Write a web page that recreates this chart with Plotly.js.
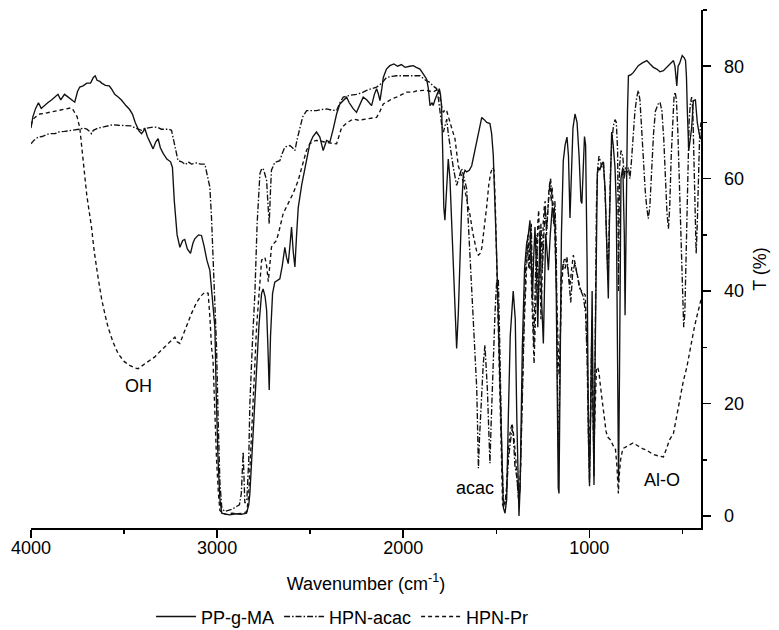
<!DOCTYPE html>
<html>
<head>
<meta charset="utf-8">
<script src="https://cdn.plot.ly/plotly-3.0.1.min.js"></script>
<style>html,body{margin:0;padding:0;background:#fff}#chart{width:779px;height:630px}</style>
</head>
<body>
<div id="chart"></div>
<script>
// PP-g-MA (solid)
const ppWn = [4000,3990,3975,3960,3945,3930,3910,3890,3870,3855,3840,3820,3800,3780,3765,3750,3738,3720,3700,3680,3665,3655,3645,3630,3620,3600,3580,3568,3550,3530,3514,3490,3470,3455,3440,3420,3406,3395,3389,3375,3360,3344,3330,3317,3305,3290,3270,3250,3240,3230,3215,3200,3185,3174,3160,3143,3130,3120,3100,3084,3070,3055,3039,3025,3012,3005,2995,2985,2975,2950,2932,2900,2870,2842,2830,2824,2810,2800,2788,2775,2761,2753,2742,2734,2727,2720,2713,2702,2690,2675,2663,2650,2636,2627,2618,2609,2600,2591,2582,2573,2564,2545,2528,2515,2502,2485,2466,2448,2430,2412,2394,2375,2358,2340,2320,2304,2290,2270,2251,2235,2215,2195,2180,2170,2155,2143,2133,2125,2115,2107,2090,2072,2050,2030,2010,1990,1965,1946,1930,1910,1890,1874,1865,1856,1845,1839,1830,1820,1806,1800,1794,1788,1782,1776,1770,1764,1758,1749,1740,1731,1722,1713,1704,1695,1686,1677,1668,1659,1645,1632,1618,1605,1590,1578,1565,1551,1534,1525,1516,1507,1498,1489,1480,1471,1462,1453,1444,1435,1425,1409,1398,1390,1383,1378,1372,1360,1348,1337,1328,1319,1312,1306,1299,1292,1284,1277,1271,1265,1256,1247,1240,1234,1227,1220,1210,1199,1192,1185,1178,1172,1167,1163,1158,1150,1140,1130,1120,1112,1104,1097,1088,1077,1066,1055,1045,1040,1033,1026,1020,1012,1005,999,992,985,980,975,970,962,957,950,944,935,925,915,905,898,892,885,880,872,862,855,848,843,838,830,820,812,808,802,795,790,776,763,750,737,715,691,674,656,638,620,602,585,566,548,540,530,523,515,501,490,483,478,474,466,458,450,441,430,420,410,400];
const ppT = [69,71,72.5,73.5,72.5,73,73.5,74,74.5,75,74,75,74.5,74,73.6,75.5,76.3,76.5,77,77,78,78.3,77.5,77.3,77,76.6,76.5,76,75,74.5,74,73,72.3,71.5,70,68.5,68,68.5,69,67.5,66.5,65.3,66.5,67.1,65.5,64.5,63.5,63,62,56,50,47.8,49,49.2,47.5,46.7,48.5,49.3,50,49.9,48,45.5,43.7,39,33.6,22,10,3,0.5,0.3,0.2,0.4,0.3,0.5,2,4,13,20,27.7,34,39.6,40.4,39,36.6,30,22.4,32,39.6,41.6,42,42.2,44.5,47.8,46,44.9,48,51.4,47,44.3,50,54.9,59,62,64.5,66.2,67.5,68.3,67.4,65,66.8,66.5,69,71.5,73.3,74,74.5,73.5,72.5,71.8,73,74.5,74,73.5,73,75,76,75,73.9,76,78,79.5,80.1,80.4,80,80.3,79.8,80,80.1,79.8,79.5,78.5,77.7,76,73,73.5,73,74,74.8,76,75,73,65,55,52.6,57,62,63.5,60,53,46.4,38,29.8,36,46.4,55,60.6,61.5,61.2,61.5,62.3,64.5,67.1,69.5,70.9,70.5,70,69.8,68,64.1,56,46.4,35,22.7,10,1.5,0.5,3,18,32,40,35,18,5,0,5,30,44,48.4,50,52.6,46,38.4,46,51.4,44,33.6,42,50.8,38,30.7,42,50.2,47,43.7,50,54.9,54,52.6,40,20,5,4,20,50,63.2,66,67.4,64,53,60,69,71.5,70,64,56,55.6,62,67.5,66,45,15,5.3,20,40,20,5.5,25,55,61,62,61.5,62.5,63,58,48,38.7,52,66,68.3,66,62,55,25,6,25,60,62,50,35.7,55,72,78.3,78.5,78.9,79.5,80.1,80.6,81,80.4,79.8,79.5,79,79.2,79.8,80.4,81,80,76.5,80,80.5,81.9,81.5,81,78,72.7,65,67,69.1,73.9,74,70,68,67];

// HPN-acac (dash-dot)
const acacWn = [4000,3985,3962,3940,3920,3900,3870,3855,3820,3790,3760,3740,3720,3700,3685,3675,3665,3640,3610,3586,3560,3530,3500,3460,3440,3420,3406,3390,3360,3340,3317,3300,3280,3260,3245,3235,3225,3210,3190,3170,3155,3138,3110,3090,3066,3055,3045,3039,3030,3022,3012,3003,2995,2985,2975,2960,2940,2920,2896,2880,2870,2860,2851,2840,2830,2824,2810,2797,2785,2770,2760,2753,2745,2734,2726,2720,2713,2708,2690,2663,2650,2636,2620,2609,2595,2582,2570,2555,2540,2519,2490,2466,2440,2412,2385,2358,2340,2322,2290,2251,2220,2197,2170,2143,2115,2090,2060,2036,2000,1964,1930,1910,1880,1856,1840,1820,1810,1802,1793,1784,1775,1766,1758,1749,1731,1713,1700,1686,1672,1659,1650,1641,1632,1623,1614,1605,1600,1596,1590,1580,1570,1561,1555,1548,1540,1534,1528,1516,1507,1498,1489,1480,1471,1462,1455,1445,1435,1425,1415,1408,1400,1390,1380,1372,1362,1350,1340,1330,1320,1312,1305,1298,1290,1282,1275,1268,1260,1252,1245,1238,1230,1222,1215,1208,1200,1192,1185,1178,1170,1165,1160,1152,1140,1130,1120,1110,1100,1090,1078,1066,1055,1045,1032,1020,1012,1005,999,993,986,980,975,970,962,955,948,940,932,924,916,908,900,893,886,878,870,862,855,848,843,838,830,820,812,806,798,790,782,774,765,755,745,737,728,718,708,700,692,683,675,665,655,645,630,620,610,600,592,583,575,568,560,552,545,539,532,524,515,508,500,493,487,480,472,464,457,450,444,438,432,426,420,413,407,400];
const acacT = [66.2,66.8,67.4,67.5,67.8,68,68,68.3,68.4,68.5,68.6,68.8,69,68.8,68.4,68,68.6,69,69.2,69.4,69.6,69.5,69.5,69.4,69,68.8,68.6,68.9,69,69.2,69.1,68.8,68.8,68.8,68.6,67,65,63.2,63,62.5,63,62.6,62.8,62.6,62.6,61,59,58.5,53,45.5,38,30,18,6,1.5,0.8,1,1.2,1.7,2,4,11.4,2.3,3,10,20,31,39.6,52,60.9,61.8,61.8,61,59.7,55,52,58,61.5,62.9,63.2,64.5,65.6,65.8,65.9,65.5,65,67,69.1,71,72.1,72.1,72.1,72.3,72.4,72.2,72.1,73.5,74.5,74.8,75,75.3,75.7,76,76.3,77,78,78.2,78.3,78.3,78.3,78.3,78.3,77.5,77.1,76.5,76,74,71.8,69.5,68.3,69.5,70.6,68,65.9,62,58.8,60.5,61.8,60,58.2,52,46.4,40,34.5,28,22.7,15,8.5,14,22,27,30.4,27,22.7,15,9.4,16,28.6,36,41.6,42.2,28.6,12,3,2,4,10,13,15.5,14,9,7,3,5,20,36,46,50,44,52,40,30,42,50,38,46,52,44,50,55,51,56,58,60,55,52,56,48,20,10,22,42,45,44,46,42,38,43,45,43,41,40,39,36,28,14,6,20,35,18,7,25,55,62,64,63,62,63,58,50,42,52,62,67,69.5,70.5,70,65,40,62,65,64,60,62,61,62,60,63,68,72,74.5,75.7,74,68,62,58,55,52.9,55,62,68,72,73.3,73.6,72,67,60,54,51.1,55,64,71,74.5,75.4,74,68,58,48,40,33.6,36,48,62,70,73.5,74.5,72,62,52,46.7,52,62,68,70];

// HPN-Pr (dashed)
const prWn = [4000,3990,3975,3953,3930,3900,3880,3855,3830,3801,3785,3775,3765,3752,3745,3738,3730,3720,3700,3675,3660,3640,3620,3600,3586,3560,3532,3500,3470,3440,3425,3400,3370,3335,3300,3260,3240,3227,3215,3200,3185,3165,3138,3110,3085,3066,3048,3038,3030,3022,3012,3003,2993,2985,2970,2950,2920,2890,2860,2840,2830,2815,2800,2788,2775,2761,2743,2734,2725,2716,2708,2695,2681,2665,2645,2627,2609,2590,2564,2550,2537,2520,2502,2485,2466,2440,2412,2385,2358,2345,2331,2300,2269,2240,2215,2197,2170,2143,2125,2107,2080,2060,2036,2000,1981,1964,1946,1930,1910,1890,1874,1856,1839,1825,1812,1800,1792,1784,1775,1766,1758,1749,1735,1722,1713,1704,1690,1677,1660,1641,1627,1614,1605,1596,1587,1578,1565,1551,1540,1530,1520,1512,1505,1498,1490,1482,1474,1466,1455,1445,1435,1425,1415,1405,1395,1385,1378,1370,1360,1350,1340,1332,1325,1318,1310,1303,1297,1290,1283,1277,1272,1266,1260,1254,1248,1242,1237,1230,1224,1217,1211,1205,1200,1193,1185,1178,1170,1163,1157,1150,1140,1131,1121,1112,1104,1095,1086,1077,1068,1059,1050,1040,1030,1022,1012,1005,999,993,986,980,975,970,962,955,948,940,930,920,910,900,885,872,860,852,846,844,840,832,820,805,790,765,740,715,691,660,630,602,585,570,548,530,512,495,476,462,450,436,423,410,400];
const prT = [69.5,70.5,71,71.5,71.6,71.8,72,72.1,72.2,72.4,72.6,72.3,71.8,71,70,69.1,66.5,63.2,57,51.4,47,42.5,38.5,35.5,33.6,31,28.9,27.5,26.8,26.3,26.2,26.8,27.5,28.3,29.5,30.8,31.5,31.8,31,30.7,32,33.8,36,38,39.2,39.8,39.6,35,30,27.7,18,10,4,1,0.5,0.3,0.5,0.4,0.5,0.8,4,15.9,25,33.6,40,45.5,46,44.5,41.7,44.5,47.8,48.5,49,51,53.8,55,56.1,57.5,59.7,61.5,63.2,65,66.2,66.6,66.8,66.6,66.5,66.3,66.2,67.5,69.1,70,70.6,70.4,70.5,70.6,70.7,70.9,72,73.3,73.8,74.2,74.5,75,75.4,75.4,75.4,75.6,75.7,75.7,75.7,75.5,75.4,75.7,76,74,72.5,71.8,72.3,72,71,70,68.5,67.1,65,62.3,60.8,59.4,56.5,53.5,50.5,48.1,47,46.4,46.7,47.6,51,55.2,59,61,62,61.5,55,45,32,20,8,2,1.5,5,12,15,16.5,14,10,4,2,8,22,34,42,48,44,50,40,32,27.1,35,45,52,54.4,45,35,42,52,55,56,50,55,58,59.7,56,58.5,54,50,42,30,25,30,40,45,46,45.2,43,41,44,46.4,45,43.4,42,40.4,40,39.5,39.3,30,18,10,18,28,18,12,18,26,26.5,25.5,23,20,17,15,14,13.5,12.5,12,9,5,4,7,10,12,12.3,12.6,13,12.5,12,11.7,11,10.7,10.5,12,13.5,14.7,18,21,24,26.5,29,31.3,33.5,35.4,37.5,38.5];

const seriesNames = ['PP-g-MA', 'HPN-acac', 'HPN-Pr'];
const xMajorTicks = [4000, 3000, 2000, 1000];
const xMinorTicks = [3500, 2500, 1500, 500];
const yMajorTicks = [0, 20, 40, 60, 80];
const yMinorTicks = [10, 30, 50, 70, 90];
const labelTexts = ['OH', 'acac', 'Al-O'];
const labelWn = [3425, 1615, 611];
const labelT = [23.1, 5.0, 6.4];

const lineW = 1.35;
const traces = [
  {x: ppWn, y: ppT, name: seriesNames[0], type: 'scatter', mode: 'lines',
   line: {color: '#111', width: lineW, dash: 'solid'}},
  {x: acacWn, y: acacT, name: seriesNames[1], type: 'scatter', mode: 'lines',
   line: {color: '#111', width: lineW, dash: '6px,2px,1.5px,2px'}},
  {x: prWn, y: prT, name: seriesNames[2], type: 'scatter', mode: 'lines',
   line: {color: '#111', width: lineW, dash: '4px,3px'}}
];

const fontFam = '"Liberation Sans", Arial, Helvetica, sans-serif';
const axisCommon = {
  showgrid: false, zeroline: false, showline: true, linecolor: '#000', linewidth: 1.5,
  ticks: 'outside', ticklen: 8, tickwidth: 1.5, tickcolor: '#000',
  tickfont: {family: fontFam, size: 18, color: '#000'}, automargin: false
};

const layout = {
  width: 779, height: 630,
  margin: {l: 31, r: 78, t: 10, b: 102},
  paper_bgcolor: '#fff', plot_bgcolor: '#fff',
  font: {family: fontFam, size: 18, color: '#000'},
  showlegend: true,
  legend: {orientation: 'h', x: 0.465, xanchor: 'center', xref: 'paper',
           y: 0.021, yanchor: 'middle', yref: 'container',
           font: {family: fontFam, size: 18, color: '#000'}, bgcolor: 'rgba(0,0,0,0)', itemwidth: 40},
  xaxis: Object.assign({}, axisCommon, {
    range: [4000, 400], autorange: false,
    tickmode: 'array', tickvals: xMajorTicks, ticktext: xMajorTicks.map(String),
    ticklabelstandoff: -5,
    minor: {tickmode: 'array', tickvals: xMinorTicks, ticks: 'outside', ticklen: 4, tickwidth: 1.5, tickcolor: '#000', showgrid: false},
    title: {text: 'Wavenumber (cm<sup>-1</sup>)', font: {family: fontFam, size: 18, color: '#000'}, standoff: 20}
  }),
  yaxis: Object.assign({}, axisCommon, {
    side: 'right', range: [-2.13, 90], autorange: false,
    tickmode: 'array', tickvals: yMajorTicks, ticktext: yMajorTicks.map(String),
    ticklabelstandoff: 10,
    minor: {tickmode: 'array', tickvals: yMinorTicks, ticks: 'outside', ticklen: 4, tickwidth: 1.5, tickcolor: '#000', showgrid: false},
    title: {text: 'T (%)', font: {family: fontFam, size: 18, color: '#000'}, standoff: 10}
  }),
  annotations: labelTexts.map((t, i) => ({
    x: labelWn[i], y: labelT[i], xref: 'x', yref: 'y', text: t, showarrow: false,
    font: {family: fontFam, size: 18, color: '#000'}, xanchor: 'center', yanchor: 'middle'
  }))
};

Plotly.newPlot('chart', traces, layout, {staticPlot: true, displayModeBar: false});
</script>
</body>
</html>
